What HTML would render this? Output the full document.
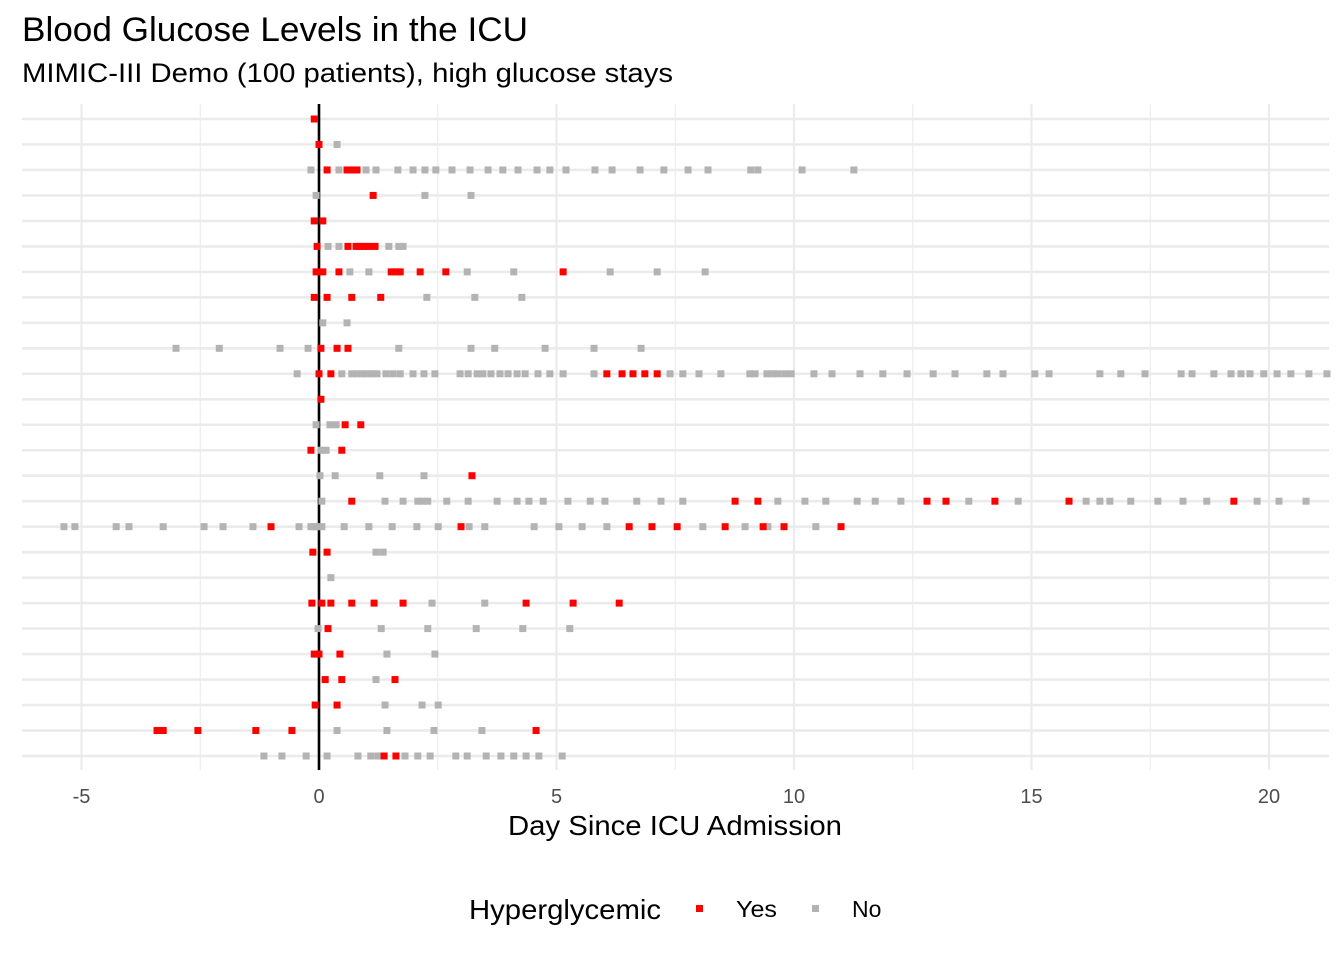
<!DOCTYPE html>
<html><head><meta charset="utf-8">
<style>
body{margin:0;background:#fff;}
svg{display:block;font-family:"Liberation Sans",Arial,sans-serif;}
</style></head>
<body>
<svg id="chart" width="1344" height="960" viewBox="0 0 1344 960">
<text x="22" y="41" font-size="34" textLength="506" lengthAdjust="spacingAndGlyphs" fill="#000">Blood Glucose Levels in the ICU</text>
<text x="22" y="82" font-size="27" textLength="651" lengthAdjust="spacingAndGlyphs" fill="#000">MIMIC-III Demo (100 patients), high glucose stays</text>
<g id="grid"></g>
<g id="points"></g>
<g id="xticks"></g>
<text x="508" y="835" font-size="28" textLength="334" lengthAdjust="spacingAndGlyphs" fill="#000">Day Since ICU Admission</text>
<g>
<text x="469" y="919" font-size="28" textLength="192" lengthAdjust="spacingAndGlyphs" fill="#000">Hyperglycemic</text>
<rect x="696" y="905" width="7" height="7" fill="#ff0000"/>
<text x="736" y="917" font-size="23" textLength="41" lengthAdjust="spacingAndGlyphs" fill="#000">Yes</text>
<rect x="812" y="905" width="7" height="7" fill="#b3b3b3"/>
<text x="852" y="917" font-size="23" fill="#000">No</text>
</g>
</svg>
<script>
const xTickValues = [-5, 0, 5, 10, 15, 20];
const xTickLabels = ["-5", "0", "5", "10", "15", "20"];
const xMinorValues = [-2.5, 2.5, 7.5, 12.5, 17.5];
const hyperYes = [
[-0.1],
[0.0],
[0.17,0.59,0.69,0.8],
[1.14],
[-0.1,0.08],
[-0.04,0.61,0.78,0.86,0.95,1.05,1.18],
[-0.06,0.08,0.42,1.52,1.62,1.71,2.13,2.67,5.14],
[-0.1,0.17,0.69,1.3],
[],
[0.04,0.38,0.61],
[0,0.25,6.06,6.38,6.61,6.86,7.12],
[0.04],
[0.55,0.88],
[-0.17,0.48],
[3.22],
[0.69,8.76,9.24,12.8,13.2,14.23,15.79,19.26],
[-1.01,2.99,6.53,7.01,7.54,8.55,9.35,9.79,10.99],
[-0.13,0.17],
[],
[-0.15,0.06,0.25,0.69,1.16,1.77,4.36,5.35,6.32],
[0.19],
[-0.1,0,0.44],
[0.13,0.48,1.6],
[-0.08,0.38],
[-3.41,-3.28,-2.55,-1.33,-0.57,4.57],
[1.37,1.62]
];
const hyperNo = [
[],
[0.38],
[-0.17,0.42,0.99,1.2,1.66,1.98,2.23,2.46,2.8,3.18,3.56,3.87,4.19,4.59,4.86,5.2,5.81,6.17,6.76,7.26,7.77,8.19,9.09,9.24,10.17,11.26],
[-0.06,2.23,3.2],
[],
[0.19,0.42,1.47,1.68,1.77],
[0.65,1.05,3.12,4.1,6.13,7.12,8.13],
[2.27,3.28,4.27],
[0.08,0.59],
[-3.01,-2.1,-0.82,-0.23,1.68,3.2,3.7,4.76,5.79,6.78],
[-0.46,0.48,0.69,0.8,0.91,1.01,1.12,1.22,1.41,1.56,1.71,1.98,2.21,2.44,2.97,3.14,3.33,3.45,3.62,3.81,3.98,4.17,4.34,4.61,4.86,5.14,5.79,7.39,7.66,8.0,8.46,9.07,9.18,9.43,9.54,9.66,9.81,9.94,10.42,10.8,11.39,11.87,12.38,12.93,13.39,14.06,14.4,15.07,15.37,16.44,16.88,17.39,18.15,18.38,18.84,19.2,19.41,19.6,19.89,20.17,20.46,20.84,21.22],
[],
[-0.06,0.23,0.36],
[0.04,0.15],
[0.02,0.34,1.28,2.21],
[0.06,1.39,1.77,2.08,2.19,2.29,2.69,3.14,3.75,4.17,4.42,4.72,5.24,5.71,6.02,6.69,7.2,7.66,9.66,10.23,10.67,11.33,11.71,12.25,13.68,14.72,16.15,16.44,16.65,17.09,17.66,18.19,18.69,19.75,20.21,20.78],
[-5.37,-5.14,-4.27,-4.0,-3.28,-2.42,-2.02,-1.39,-0.42,-0.17,-0.1,-0.06,0.06,0.53,1.05,1.54,2.06,2.51,3.16,3.49,4.53,5.05,5.54,6.06,8.08,8.97,9.45,10.46],
[1.2,1.35],
[0.25],
[2.38,3.49],
[-0.02,1.31,2.29,3.31,4.29,5.28],
[1.43,2.44],
[1.2],
[1.39,2.17,2.51],
[0.38,1.43,2.42,3.43],
[-1.16,-0.78,-0.27,0.17,0.82,1.09,1.24,1.81,2.08,2.34,2.88,3.12,3.52,3.83,4.1,4.36,4.63,5.12]
];

const NS = "http://www.w3.org/2000/svg";
const PL = 22, PR = 1329, PT = 104, PB = 770;
const X0 = 319, XS = 47.5;
function xScale(d){ return X0 + d * XS; }
const nRows = hyperYes.length;
function yScale(i){ return 119 + i * (756 - 119) / (nRows - 1); }
function mk(tag, attrs, parent){
  const e = document.createElementNS(NS, tag);
  for (const k in attrs) e.setAttribute(k, attrs[k]);
  parent.appendChild(e); return e;
}
const grid = document.getElementById('grid');
xMinorValues.forEach(v => {
  const l = mk('line', {x1:xScale(v), x2:xScale(v), y1:PT, y2:PB, stroke:'#ebebeb', 'stroke-width':1.1}, grid);
  
  
});
xTickValues.forEach(v => {
  const l = mk('line', {x1:xScale(v), x2:xScale(v), y1:PT, y2:PB, stroke:'#ebebeb', 'stroke-width':2.1}, grid);
  
  
});
for (let i = 0; i < nRows; i++) {
  const l = mk('line', {x1:PL, x2:PR, y1:yScale(i), y2:yScale(i), stroke:'#ebebeb', 'stroke-width':2.6}, grid);
  
  
}
const zl = mk('line', {x1:xScale(0), x2:xScale(0), y1:PT, y2:PB, stroke:'#000', 'stroke-width':2.6}, grid);



const pts = document.getElementById('points');
const S = 7;
function drawSeries(arr, color, name){
  arr.forEach((row, i) => {
    row.forEach(d => {
      const r = mk('rect', {x:xScale(d)-S/2, y:yScale(i)-S/2, width:S, height:S, fill:color}, pts);
      
      
    });
  });
}
drawSeries(hyperNo, '#b3b3b3', 'point-normal');
drawSeries(hyperYes, '#ff0000', 'point-hyperglycemic');

const xt = document.getElementById('xticks');
xTickValues.forEach((v, i) => {
  const t = mk('text', {x:xScale(v), y:803, 'font-size':20, 'text-anchor':'middle', fill:'#4d4d4d'}, xt);
  t.textContent = xTickLabels[i];
  
  
});
</script>
</body></html>
